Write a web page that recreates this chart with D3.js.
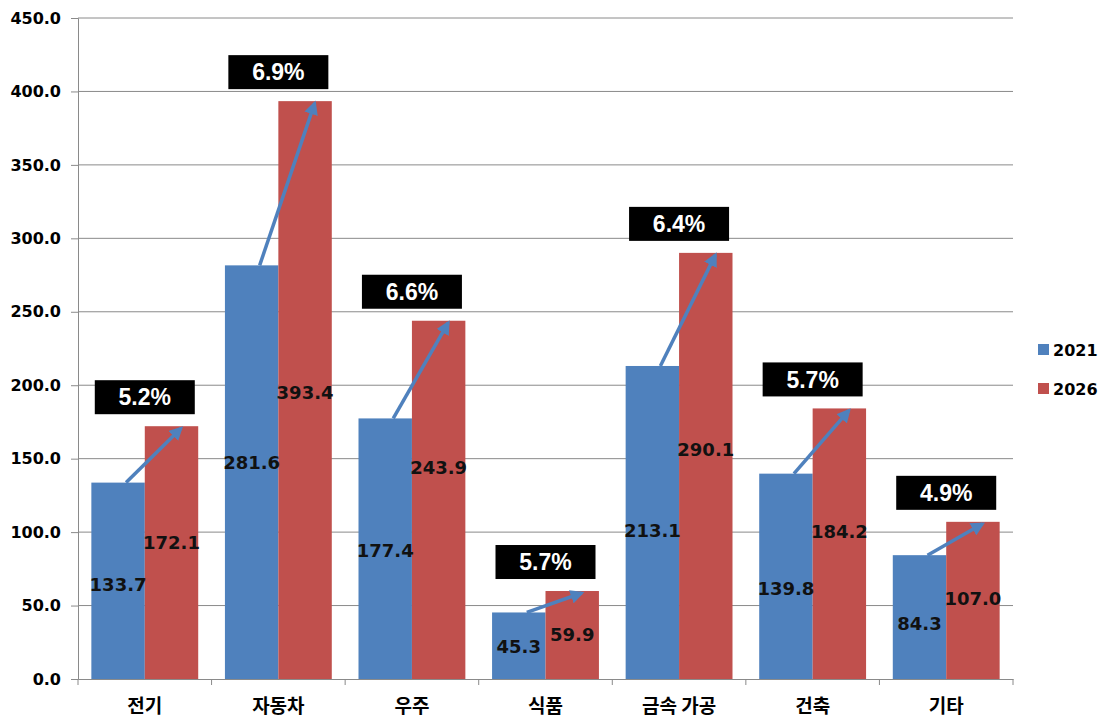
<!DOCTYPE html>
<html><head><meta charset="utf-8">
<script src="https://cdn.jsdelivr.net/npm/d3@7"></script>
<style>body{margin:0;background:#fff}</style>
</head><body>
<svg id="c" width="1120" height="723"></svg>
<script>
const categories = ["전기","자동차","우주","식품","금속 가공","건축","기타"];
const series = ["2021","2026"];
const values2021 = [133.7,281.6,177.4,45.3,213.1,139.8,84.3];
const values2026 = [172.1,393.4,243.9,59.9,290.1,184.2,107.0];
const growth = ["5.2%","6.9%","6.6%","5.7%","6.4%","5.7%","4.9%"];
const yTicks = [0,50,100,150,200,250,300,350,400,450];
const colors = ["#4F81BD","#C0504D"];

// layout: vertical nudges (px) of the value labels from bar middle, as placed in the original
const labelNudge = [[4,-10],[-10,2],[2,-32],[1,0],[8,-16],[12,-12],[6,-2]];

const svg = d3.select("#c");
const numFont = "'DejaVu Sans', sans-serif";
const boxFont = "'Liberation Sans', Arial, sans-serif";
const krFont = "'Noto Sans CJK KR', sans-serif";
const L=78, R=1013, T=18, B=679;
const x = d3.scaleBand().domain(categories).range([L,R]).paddingInner(0.2).paddingOuter(0.1);
const y = d3.scaleLinear().domain([0,450]).range([B,T]);
const bw = x.bandwidth()/2;

// gridlines
svg.append("g").selectAll("line").data(yTicks.filter(d=>d>0)).join("line")
  .attr("x1",L).attr("x2",R).attr("y1",d=>y(d)).attr("y2",d=>y(d))
  .attr("stroke","#8a8a8a").attr("stroke-width",1);

// y axis
const ya = svg.append("g").attr("transform",`translate(${L},0)`)
  .call(d3.axisLeft(y).tickValues(yTicks).tickFormat(d3.format(".1f")).tickSize(7).tickPadding(10));
ya.select(".domain").attr("stroke","#8a8a8a");
ya.selectAll(".tick line").attr("stroke","#8a8a8a");
ya.selectAll("text").attr("font-family",numFont).attr("font-weight","bold").attr("font-size",16).attr("fill","#000");

// bars
const data = categories.map((c,i)=>({c,i,v:[values2021[i],values2026[i]],g:growth[i]}));
const g = svg.append("g");
data.forEach(d=>{
  d.v.forEach((v,j)=>{
    g.append("rect").attr("x",x(d.c)+j*bw).attr("y",y(v)).attr("width",bw).attr("height",y(0)-y(v)).attr("fill",colors[j]);
  });
});

// x axis
const xa = svg.append("g").attr("transform",`translate(0,${B})`)
  .call(d3.axisBottom(x).tickSize(0).tickPadding(21));
xa.select(".domain").attr("stroke","#8a8a8a");
xa.selectAll("text").attr("font-family",krFont).attr("font-weight","bold").attr("font-size",19).attr("fill","#000");
const bounds = categories.map(c=>x(c)-x.step()*x.paddingInner()/2).concat([R]);
svg.append("g").selectAll("line").data(bounds).join("line")
  .attr("x1",d=>d).attr("x2",d=>d).attr("y1",B).attr("y2",B+6).attr("stroke","#8a8a8a");

// arrows
const defs = svg.append("defs");
defs.append("marker").attr("id","ah").attr("viewBox","0 0 10 10").attr("refX",8).attr("refY",5)
  .attr("markerWidth",4).attr("markerHeight",4).attr("orient","auto")
  .append("path").attr("d","M0,0 L10,5 L0,10 z").attr("fill","#4F81BD");
data.forEach(d=>{
  svg.append("line").attr("x1",x(d.c)+bw*0.65).attr("y1",y(d.v[0]))
    .attr("x2",x(d.c)+bw+bw*0.68).attr("y2",y(d.v[1])+2)
    .attr("stroke","#4F81BD").attr("stroke-width",3.5).attr("marker-end","url(#ah)");
});

// value labels
data.forEach(d=>{
  d.v.forEach((v,j)=>{
    svg.append("text").attr("x",x(d.c)+j*bw+bw/2).attr("y",(y(v)+y(0))/2+labelNudge[d.i][j]).attr("dy","0.36em")
      .attr("text-anchor","middle").attr("font-family",numFont).attr("font-weight","bold").attr("font-size",18)
      .attr("fill","#111").text(v.toFixed(1));
  });
});

// growth boxes
data.forEach(d=>{
  const cx = x(d.c)+x.bandwidth()/2, by = y(d.v[1])-12;
  svg.append("rect").attr("x",cx-50).attr("y",by-34).attr("width",100).attr("height",34).attr("fill","#000");
  svg.append("text").attr("x",cx).attr("y",by-17).attr("dy","0.36em").attr("text-anchor","middle")
    .attr("font-family",boxFont).attr("font-weight","bold").attr("font-size",23).attr("fill","#fff").text(d.g);
});

// legend
const lg = svg.append("g");
series.forEach((s,i)=>{
  const yy = 350+i*39;
  lg.append("rect").attr("x",1038).attr("y",yy-6).attr("width",11).attr("height",11).attr("fill",colors[i]);
  lg.append("text").attr("x",1053).attr("y",yy).attr("dy","0.36em").attr("font-family",numFont)
    .attr("font-weight","bold").attr("font-size",16).attr("fill","#000").text(s);
});
</script>
</body></html>
